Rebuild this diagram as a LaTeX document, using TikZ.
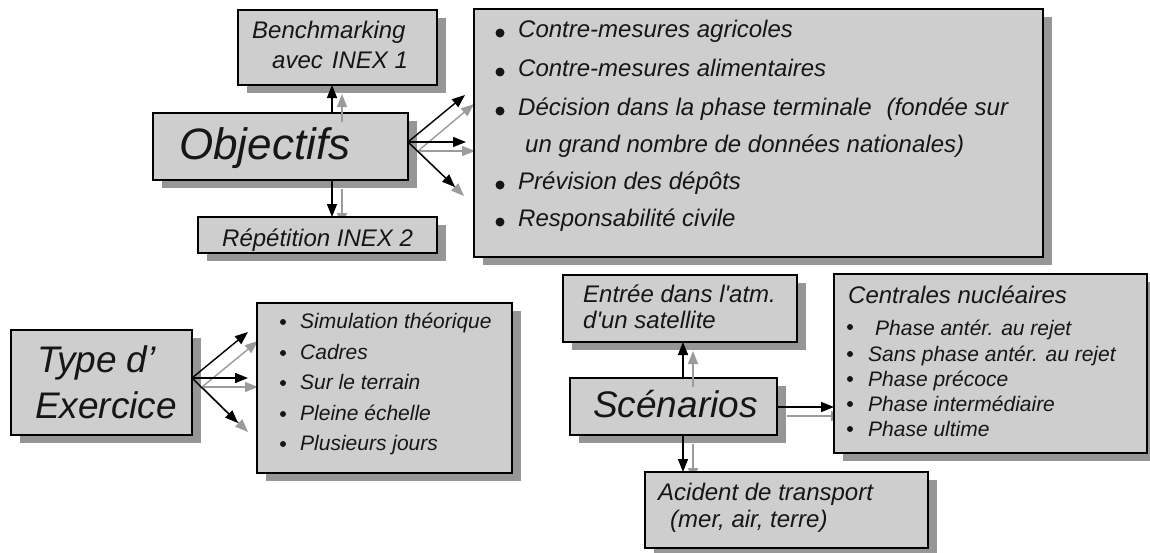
\documentclass[tikz,border=0pt]{standalone}
\usepackage{fontspec}
\setmainfont{Liberation Sans}[Ligatures=TeXOff]
\usetikzlibrary{arrows.meta,calc}
\pgfdeclarelayer{shadow}
\pgfdeclarelayer{garr}
\pgfdeclarelayer{front}
\pgfsetlayers{shadow,main,garr,front}
\definecolor{boxfill}{RGB}{206,206,206}
\definecolor{shadowc}{RGB}{150,150,150}
\definecolor{garrc}{RGB}{155,155,155}
\definecolor{txtc}{RGB}{22,22,22}
\begin{document}
\begin{tikzpicture}[x=1pt,y=-1pt,
  box/.style={draw=black, line width=1.4pt, fill=boxfill, anchor=north west, inner sep=0pt, outer sep=0pt},
  txt/.style={anchor=base west, inner sep=0pt, text=txtc, font=\fontsize{24}{28}\selectfont\itshape},
  sml/.style={txt, font=\fontsize{21}{25}\selectfont\itshape},
  big/.style={txt, font=\fontsize{44}{50}\selectfont\itshape},
  mid/.style={txt, font=\fontsize{37}{44}\selectfont\itshape},
  blk/.style={line width=1.4pt, draw=black, -{Triangle[length=13pt,width=10pt]}},
  gry/.style={line width=1.4pt, draw=garrc, -{Triangle[length=13pt,width=10pt]}},
  bigdot/.style={circle, fill=txtc, inner sep=0pt, minimum size=9pt},
  smdot/.style={circle, fill=txtc, inner sep=0pt, minimum size=6pt},
  shd/.style={fill=shadowc}
]
\useasboundingbox (0,0) rectangle (1150,552);

% ---------- source boxes (main layer) ----------
\node[box, minimum width=255pt, minimum height=67pt] (obj) at (153,113) {};
\node[big] (tobj) at (179,159) {Objectifs};
\node[box, minimum width=181pt, minimum height=105pt] (type) at (11,330) {};
\node[mid] (ttype1) at (37,372) {Type d’};
\node[mid] (ttype2) at (35,418) {Exercice};
\node[box, minimum width=207pt, minimum height=57pt] (scen) at (570,378) {};
\node[mid] (tscen) at (593,417) {Scénarios};

% ---------- target boxes (front layer) ----------
\begin{pgfonlayer}{front}
\node[box, minimum width=199pt, minimum height=75pt] (bench) at (238,10) {};
\node[txt] (tb1) at (252,38) {Benchmarking};
\node[txt] (tb2) at (272,68) {avec\hspace{9pt}INEX 1};

\node[box, minimum width=239pt, minimum height=36pt] (rep) at (198,217) {};
\node[txt] (trep) at (222,246) {Répétition INEX 2};

\node[box, minimum width=569pt, minimum height=248pt] (list) at (474,9) {};
\node[bigdot] (d1) at (500,33) {};
\node[bigdot] (d2) at (500,72) {};
\node[bigdot] (d3) at (500,111) {};
\node[bigdot] (d5) at (500,185) {};
\node[bigdot] (d6) at (500,222) {};
\node[txt] (l1) at (518,37) {Contre-mesures agricoles};
\node[txt] (l2) at (518,76) {Contre-mesures alimentaires};
\node[txt] (l3) at (518,115) {Décision dans la phase terminale\hspace{15pt}(fondée sur};
\node[txt] (l4) at (525,152) {un grand nombre de données nationales)};
\node[txt] (l5) at (518,189) {Prévision des dépôts};
\node[txt] (l6) at (518,226) {Responsabilité civile};

\node[box, minimum width=255pt, minimum height=170pt] (tlist) at (257,303) {};
\node[smdot] (e1) at (283,322) {};
\node[smdot] (e2) at (283,353) {};
\node[smdot] (e3) at (283,383) {};
\node[smdot] (e4) at (283,414) {};
\node[smdot] (e5) at (283,444) {};
\node[sml] (k1) at (300,328) {Simulation théorique};
\node[sml] (k2) at (300,359) {Cadres};
\node[sml] (k3) at (300,389) {Sur le terrain};
\node[sml] (k4) at (300,420) {Pleine échelle};
\node[sml] (k5) at (300,450) {Plusieurs jours};

\node[box, minimum width=234pt, minimum height=67pt] (entree) at (563,275) {};
\node[txt] (te1) at (583,302) {Entrée dans l'atm.};
\node[txt] (te2) at (583,328) {d'un satellite};

\node[box, minimum width=313pt, minimum height=179pt] (centr) at (834,274) {};
\node[txt] (tc0) at (848,303) {Centrales nucléaires};
\node[smdot] (c1) at (850,327) {};
\node[smdot] (c2) at (850,354) {};
\node[smdot] (c3) at (850,379) {};
\node[smdot] (c4) at (850,404) {};
\node[smdot] (c5) at (850,429) {};
\node[sml] (tc1) at (875,335) {Phase antér. au rejet};
\node[sml] (tc2) at (868,361) {Sans phase antér. au rejet};
\node[sml] (tc3) at (868,386) {Phase précoce};
\node[sml] (tc4) at (868,411) {Phase intermédiaire};
\node[sml] (tc5) at (868,436) {Phase ultime};

\node[box, minimum width=283pt, minimum height=76pt] (acid) at (645,472) {};
\node[txt] (ta1) at (658,500) {Acident de transport};
\node[txt] (ta2) at (670,527) {(mer, air, terre)};
\end{pgfonlayer}

% ---------- shadows ----------
\begin{pgfonlayer}{shadow}
\foreach \n in {obj,type,scen,bench,rep,list,tlist,entree,centr,acid}
  \fill[shd] ($(\n.south west)+(9,8)$) rectangle ($(\n.north east)+(9,8)$);
\end{pgfonlayer}

% ---------- connector coordinates ----------
\coordinate (ox) at (332,0);
\coordinate (of1) at (465,95);
\coordinate (of2) at (466,142);
\coordinate (of3) at (455,187);
\coordinate (tf1) at (248,332);
\coordinate (tf2) at (248,378);
\coordinate (tf3) at (238,423);
\coordinate (sx) at (683,0);
\coordinate (sy) at (0,407);

% ---------- gray (shadow) arrows ----------
\begin{pgfonlayer}{garr}
\draw[gry] ($(obj.north -| ox)+(10,9)$) -- ($(bench.south -| ox)+(10,9)$);
\draw[gry] ($(obj.south -| ox)+(10,9)$) -- ($(rep.north -| ox)+(10,9)$);
\draw[gry] ($(obj.east |- of2)+(10,9)$) -- ($(of1)+(9,9)$);
\draw[gry] ($(obj.east |- of2)+(10,9)$) -- ($(of2)+(9,9)$);
\draw[gry] ($(obj.east |- of2)+(10,9)$) -- ($(of3)+(9,9)$);
\draw[gry] ($(type.east |- tf2)+(10,9)$) -- ($(tf1)+(10,9)$);
\draw[gry] ($(type.east |- tf2)+(10,9)$) -- ($(tf2)+(10,9)$);
\draw[gry] ($(type.east |- tf2)+(10,9)$) -- ($(tf3)+(10,9)$);
\draw[gry] ($(scen.north -| sx)+(10,9)$) -- ($(entree.south -| sx)+(10,9)$);
\draw[gry] ($(scen.east |- sy)+(10,9)$) -- ($(centr.west |- sy)+(10,9)$);
\draw[gry] ($(scen.south -| sx)+(10,9)$) -- ($(acid.north -| sx)+(10,9)$);
\end{pgfonlayer}

% ---------- black arrows ----------
\begin{pgfonlayer}{front}
\draw[blk] (obj.north -| ox) -- (bench.south -| ox);
\draw[blk] (obj.south -| ox) -- (rep.north -| ox);
\draw[blk] (obj.east |- of2) -- (of1);
\draw[blk] (obj.east |- of2) -- (of2);
\draw[blk] (obj.east |- of2) -- (of3);
\draw[blk] (type.east |- tf2) -- (tf1);
\draw[blk] (type.east |- tf2) -- (tf2);
\draw[blk] (type.east |- tf2) -- (tf3);
\draw[blk] (scen.north -| sx) -- (entree.south -| sx);
\draw[blk] (scen.east |- sy) -- (centr.west |- sy);
\draw[blk] (scen.south -| sx) -- (acid.north -| sx);
\end{pgfonlayer}
\end{tikzpicture}
\end{document}
